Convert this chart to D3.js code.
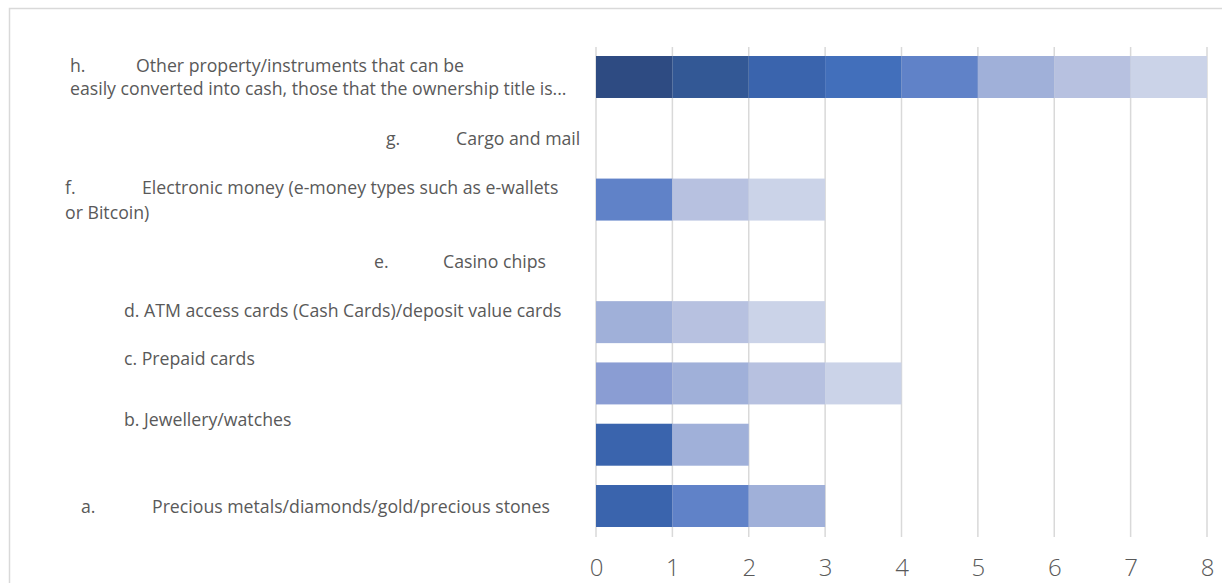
<!DOCTYPE html>
<html>
<head>
<meta charset="utf-8">
<script src="https://cdn.jsdelivr.net/npm/d3@7"></script>
<style>
  html, body { margin: 0; padding: 0; background: #fff; }
  svg { display: block; }
  text { font-family: "Open Sans", "Segoe UI", sans-serif; fill: #595959; }
</style>
</head>
<body>
<svg id="chart" width="1222" height="583"></svg>
<script>
// Categories, top to bottom
const categories = ["h", "g", "f", "e", "d", "c", "b", "a"];

// Wrapped category labels: each line is [prefix, text]
const categoryLabels = {
  h: [["h.", "Other property/instruments that can be"], ["", "easily converted into cash, those that the ownership title is..."]],
  g: [["g.", "Cargo and mail"]],
  f: [["f.", "Electronic money (e-money types such as e-wallets"], ["", "or Bitcoin)"]],
  e: [["e.", "Casino chips"]],
  d: [["", "d. ATM access cards (Cash Cards)/deposit value cards"]],
  c: [["", "c. Prepaid cards"]],
  b: [["", "b. Jewellery/watches"]],
  a: [["a.", "Precious metals/diamonds/gold/precious stones"]]
};

// Stacked series (one count per category, in category order h..a)
const seriesNames = ["S1", "S2", "S3", "S4", "S5", "S6", "S7", "S8", "S9"];
const seriesColors = ["#2e4b82", "#335895", "#3a64ad", "#426fbb", "#6082c8", "#8a9dd3", "#a0b0d9", "#b7c1e0", "#cbd3e8"];
const s1 = [1, 0, 0, 0, 0, 0, 0, 0];
const s2 = [1, 0, 0, 0, 0, 0, 0, 0];
const s3 = [1, 0, 0, 0, 0, 0, 1, 1];
const s4 = [1, 0, 0, 0, 0, 0, 0, 0];
const s5 = [1, 0, 1, 0, 0, 0, 0, 1];
const s6 = [0, 0, 0, 0, 0, 1, 0, 0];
const s7 = [1, 0, 0, 0, 1, 1, 1, 1];
const s8 = [1, 0, 1, 0, 1, 1, 0, 0];
const s9 = [1, 0, 1, 0, 1, 1, 0, 0];
const seriesValues = [s1, s2, s3, s4, s5, s6, s7, s8, s9];

const xTicks = [0, 1, 2, 3, 4, 5, 6, 7, 8];

const svg = d3.select("#chart");

// chart area border
svg.append("path")
  .attr("d", "M9.5,583 V8.5 H1222")
  .attr("fill", "none")
  .attr("stroke", "#d9d9d9")
  .attr("stroke-width", 1.5);

const x = d3.scaleLinear().domain([0, 8]).range([596, 1207]);
const y = d3.scaleBand().domain(categories).range([47, 536])
  .paddingInner(0.315).paddingOuter(0.147);

// gridlines
svg.append("g").selectAll("line").data(xTicks).join("line")
  .attr("x1", d => x(d)).attr("x2", d => x(d))
  .attr("y1", 47).attr("y2", 537)
  .attr("stroke", "#d9d9d9").attr("stroke-width", 1.5);

// stacked data
const table = categories.map((c, i) => {
  const row = { category: c };
  seriesNames.forEach((s, j) => { row[s] = seriesValues[j][i]; });
  return row;
});
const stacked = d3.stack().keys(seriesNames)(table);

svg.append("g").selectAll("g").data(stacked).join("g")
  .attr("fill", (d, i) => seriesColors[i])
  .selectAll("rect")
  .data(d => d.filter(p => p[1] - p[0] > 0))
  .join("rect")
  .attr("x", p => x(p[0]))
  .attr("width", p => x(p[1]) - x(p[0]))
  .attr("y", p => y(p.data.category))
  .attr("height", y.bandwidth());

// x axis tick labels
const xAxis = d3.axisBottom(x).tickValues(xTicks).tickSize(0).tickPadding(0).tickFormat(d3.format("d"));
const gx = svg.append("g").attr("transform", "translate(0,559)").call(xAxis);
gx.select(".domain").remove();
gx.selectAll("text")
  .attr("dy", "0.71em")
  .style("font-size", "24px")
  .style("font-weight", 300)
  .style("fill", "#595959")
  .style("font-family", "\"Open Sans\", sans-serif");

// category label placement (x for prefix, x for text, baseline y)
const labelPos = {
  h: [[70, 136, 72], [70, 70, 95]],
  g: [[386, 456, 145]],
  f: [[65, 142, 194], [65, 65, 219]],
  e: [[374, 443, 268]],
  d: [[124, 124, 317]],
  c: [[124, 124, 365]],
  b: [[124, 124, 426]],
  a: [[81, 152, 513]]
};

const lg = svg.append("g").style("font-size", "17.7px");
categories.forEach(c => {
  categoryLabels[c].forEach((line, k) => {
    const [px, tx, by] = labelPos[c][k];
    if (line[0]) lg.append("text").attr("x", px).attr("y", by).text(line[0]);
    lg.append("text").attr("x", tx).attr("y", by).text(line[1]);
  });
});
</script>
</body>
</html>
